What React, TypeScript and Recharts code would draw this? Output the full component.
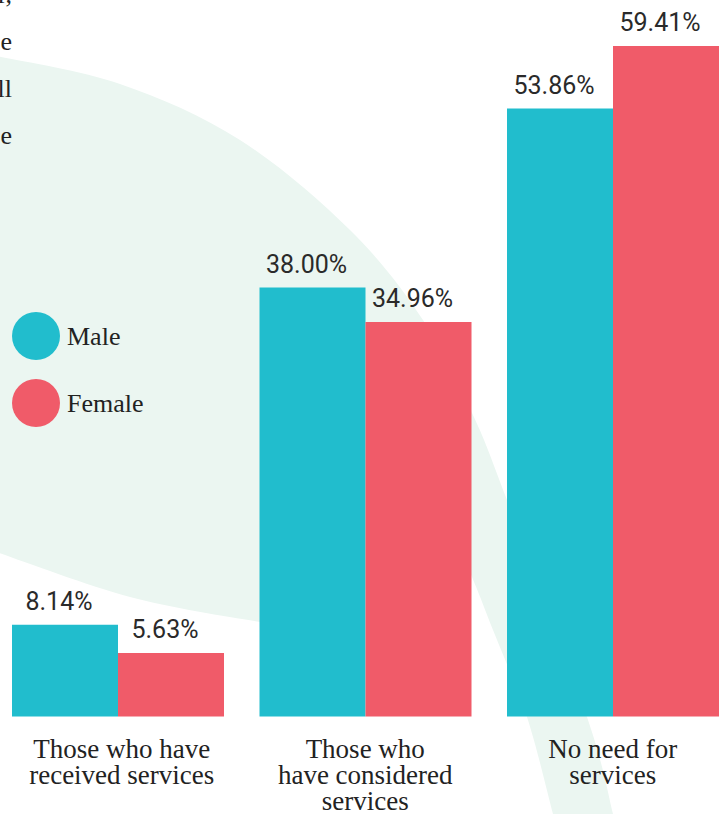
import { BarChart, Bar, XAxis, YAxis, LabelList } from "recharts";

const CATEGORIES = [
  "Those who have received services",
  "Those who have considered services",
  "No need for services",
];
const TICK_LINES = [
  ["Those who have", "received services"],
  ["Those who", "have considered", "services"],
  ["No need for", "services"],
];
const MALE = [8.14, 38.0, 53.86];
const FEMALE = [5.63, 34.96, 59.41];
const SERIES = [
  { key: "male", name: "Male", color: "#21BDCD" },
  { key: "female", name: "Female", color: "#F05B69" },
];
// cut-off ends of the paragraph that sits left of the chart
const SIDE_TEXT = ["r,", "e", "ll", "e"];

const SERIF = "'Liberation Serif', 'Times New Roman', serif";
const SANS = "Roboto, 'Noto Sans', sans-serif";
const BG_GREEN = "#EBF6F1";

const data = CATEGORIES.map((c, i) => ({
  category: c,
  male: MALE[i],
  female: FEMALE[i],
}));

// smooth path through points (catmull-rom -> cubic)
function smooth(pts: number[][], move = true) {
  let d = move ? `M${pts[0][0]},${pts[0][1]}` : `L${pts[0][0]},${pts[0][1]}`;
  for (let i = 0; i < pts.length - 1; i++) {
    const p0 = pts[i - 1] || pts[i];
    const p1 = pts[i];
    const p2 = pts[i + 1];
    const p3 = pts[i + 2] || p2;
    const c1 = [p1[0] + (p2[0] - p0[0]) / 6, p1[1] + (p2[1] - p0[1]) / 6];
    const c2 = [p2[0] - (p3[0] - p1[0]) / 6, p2[1] - (p3[1] - p1[1]) / 6];
    d += ` C${c1[0]},${c1[1]} ${c2[0]},${c2[1]} ${p2[0]},${p2[1]}`;
  }
  return d;
}

// decorative background blob
const OUTER = [
  [-4, 56], [120, 84], [240, 140], [350, 230], [423, 320],
  [472, 413], [507, 500], [587, 717], [613, 814], [618, 840],
];
const BAND_INNER = [[560, 840], [553, 814], [527, 717], [493, 630], [472, 577], [455, 540]];
const BOTTOM = [[300, 626], [260, 622], [130, 597], [-4, 552]];

function Background() {
  const d =
    smooth(OUTER) + " " + smooth(BAND_INNER, false) + " " + smooth(BOTTOM, false) + " Z";
  return (
    <svg
      width={719}
      height={814}
      style={{ position: "absolute", left: 0, top: 0 }}
    >
      <path d={d} fill={BG_GREEN} />
      {SIDE_TEXT.map((t, i) => (
        <text
          key={i}
          x={12}
          y={3 + i * 47}
          textAnchor="end"
          fontFamily={SERIF}
          fontSize={26}
          fill="#222"
        >
          {t}
        </text>
      ))}
      {SERIES.map((s, i) => (
        <g key={s.key}>
          <circle cx={36} cy={336 + i * 67} r={24} fill={s.color} />
          <text
            x={67}
            y={345 + i * 67}
            fontFamily={SERIF}
            fontSize={26}
            fill="#222"
          >
            {s.name}
          </text>
        </g>
      ))}
    </svg>
  );
}

function CategoryTick(props: any) {
  const { x, y, index } = props;
  const lines = TICK_LINES[index] || [];
  return (
    <text
      x={x}
      y={y + 41.5}
      textAnchor="middle"
      fontFamily={SERIF}
      fontSize={27}
      fill="#222"
    >
      {lines.map((l, i) => (
        <tspan key={i} x={x + (index === 0 ? 4 : 0)} dy={i === 0 ? 0 : 26}>
          {l}
        </tspan>
      ))}
    </text>
  );
}

const fmt = (v: any) => `${Number(v).toFixed(2)}%`;

export default function App() {
  return (
    <div
      style={{
        position: "fixed",
        left: 0,
        top: 0,
        width: 719,
        height: 814,
        overflow: "hidden",
        background: "#fff",
      }}
    >
      <Background />
      <div style={{ position: "absolute", left: -6, top: 0 }}>
        <BarChart
          width={742.5}
          height={814}
          data={data}
          margin={{ top: 39.3, right: 0, bottom: 0, left: 0 }}
          barCategoryGap={18}
          barGap={0}
        >
          <XAxis
            dataKey="category"
            axisLine={false}
            tickLine={false}
            tickSize={0}
            tickMargin={0}
            height={97.5}
            interval={0}
            tick={<CategoryTick />}
          />
          <YAxis hide domain={[0, 60]} />
          {SERIES.map((s) => (
            <Bar
              key={s.key}
              dataKey={s.key}
              name={s.name}
              fill={s.color}
              isAnimationActive={false}
            >
              <LabelList
                dataKey={s.key}
                position="top"
                offset={15}
                formatter={fmt}
                fontFamily={SANS}
                fontSize={25}
                fill="#2a2a2a"
                dx={-6}
              />
            </Bar>
          ))}
        </BarChart>
      </div>
    </div>
  );
}
